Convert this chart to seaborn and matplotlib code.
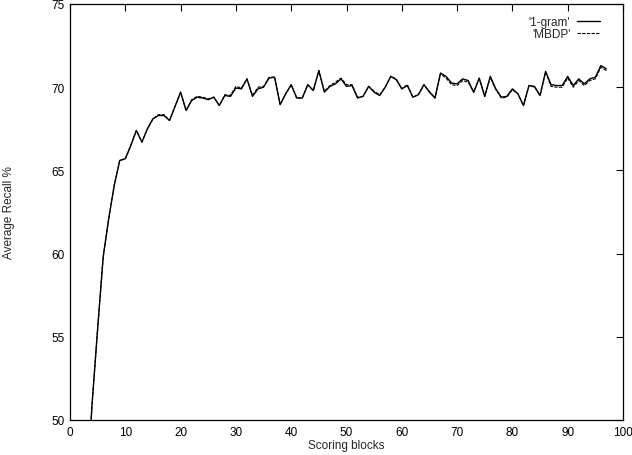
import matplotlib
matplotlib.use("Agg")
import matplotlib.pyplot as plt
import seaborn as sns
import pandas as pd

blocks = list(range(3, 98))

one_gram = [45.5, 51.0, 55.5, 59.8, 62.1, 64.1, 65.6, 65.7, 66.5, 67.4,
            66.7, 67.5, 68.1, 68.3, 68.3, 68.0, 68.85, 69.7, 68.6, 69.2,
            69.4, 69.35, 69.25, 69.4, 68.9, 69.5, 69.45, 69.95, 69.9, 70.5,
            69.45, 69.9, 70.0, 70.55, 70.6, 68.95, 69.6, 70.15, 69.35, 69.35,
            70.15, 69.8, 71.0, 69.7, 70.05, 70.2, 70.5, 70.05, 70.1, 69.35,
            69.45, 70.05, 69.7, 69.5, 70.0, 70.65, 70.45, 69.9, 70.1, 69.4,
            69.55, 70.15, 69.7, 69.35, 70.85, 70.65, 70.25, 70.2, 70.5, 70.4,
            69.7, 70.55, 69.45, 70.65, 69.9, 69.4, 69.45, 69.9, 69.6, 68.9,
            70.1, 70.05, 69.5, 70.95, 70.15, 70.1, 70.1, 70.65, 70.1, 70.5,
            70.2, 70.5, 70.6, 71.3, 71.1]

mbdp = [45.5, 51.0, 55.5, 59.8, 62.1, 64.1, 65.6, 65.7, 66.5, 67.4,
        66.7, 67.5, 68.1, 68.35, 68.35, 68.0, 68.85, 69.7, 68.6, 69.25,
        69.45, 69.4, 69.3, 69.4, 68.9, 69.55, 69.5, 70.05, 69.95, 70.5,
        69.5, 70.0, 70.05, 70.6, 70.6, 68.95, 69.6, 70.15, 69.35, 69.35,
        70.15, 69.8, 71.0, 69.75, 70.1, 70.3, 70.55, 70.15, 70.15, 69.4,
        69.45, 70.05, 69.75, 69.55, 70.0, 70.65, 70.5, 69.9, 70.15, 69.4,
        69.55, 70.15, 69.75, 69.35, 70.8, 70.55, 70.15, 70.1, 70.4, 70.3,
        69.7, 70.5, 69.45, 70.6, 69.85, 69.35, 69.4, 69.85, 69.6, 68.9,
        70.1, 70.0, 69.5, 70.9, 70.05, 70.0, 70.0, 70.55, 70.0, 70.4,
        70.1, 70.4, 70.5, 71.2, 71.0]

series_labels = ["'1-gram'", "'MBDP'"]

sns.set_style("white")
plt.rcParams["font.family"] = ["Liberation Sans", "DejaVu Sans"]

fig = plt.figure(figsize=(6.32, 4.56), dpi=100)
ax = fig.add_axes([70 / 632, 1 - 421 / 456, 553 / 632, 416 / 456])

df1 = pd.DataFrame({"block": blocks, "recall": one_gram})
df2 = pd.DataFrame({"block": blocks, "recall": mbdp})

sns.lineplot(data=df1, x="block", y="recall", ax=ax, color="black",
             linewidth=1.0, label=series_labels[0])
sns.lineplot(data=df2, x="block", y="recall", ax=ax, color="black",
             linewidth=0.8, linestyle=(0, (3, 1.2)), label=series_labels[1])

ax.set_xlim(0, 100)
ax.set_ylim(50, 75)
ax.set_xticks(range(0, 101, 10))
ax.set_yticks(range(50, 76, 5))
ax.tick_params(axis="both", which="major", direction="in", length=5,
               width=0.8, top=True, right=True, labelsize=8.5, pad=4,
               colors="black")
for s in ax.spines.values():
    s.set_visible(True)
    s.set_color("black")
    s.set_linewidth(0.9)

ax.set_xlabel("Scoring blocks", fontsize=8.5, labelpad=1)
ax.set_ylabel("Average Recall %", fontsize=8.5, labelpad=26)

leg = ax.legend(loc="upper right", frameon=False, markerfirst=False,
                fontsize=8.5, handlelength=1.9, handletextpad=0.6,
                labelspacing=-0.05, borderaxespad=0.0, borderpad=0.0,
                bbox_to_anchor=(0.958, 0.97))

fig.savefig("out.png", dpi=100, facecolor="white")
